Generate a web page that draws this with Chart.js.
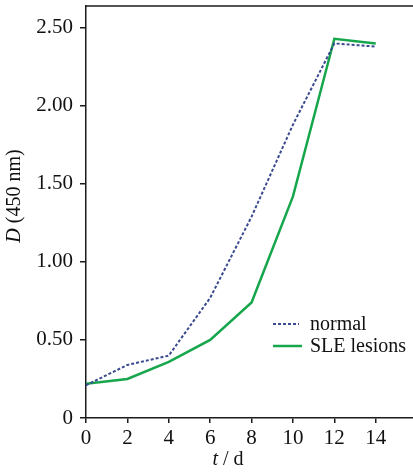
<!DOCTYPE html>
<html>
<head>
<meta charset="utf-8">
<script src="https://cdn.jsdelivr.net/npm/chart.js@4/dist/chart.umd.min.js"></script>
<style>
html,body{margin:0;padding:0;background:#fff;}
#wrap{width:413px;height:472px;position:relative;}
</style>
</head>
<body>
<div id="wrap"><canvas id="c"></canvas></div>
<script>
const days = [0, 2, 4, 6, 8, 10, 12, 14];
const normalValues = [0.21, 0.34, 0.40, 0.77, 1.29, 1.88, 2.40, 2.38];
const sleValues = [0.22, 0.25, 0.36, 0.50, 0.74, 1.42, 2.43, 2.40];
const xTicks = [0, 2, 4, 6, 8, 10, 12, 14];
const yTicks = [0, 0.5, 1.0, 1.5, 2.0, 2.5];
const seriesNames = ['normal', 'SLE lesions'];

const FONT = '"Liberation Serif", "Times New Roman", serif';
const AXIS = '#1a1a1a';

const overlay = {
  id: 'overlay',
  afterDraw(chart) {
    const ctx = chart.ctx;
    const a = chart.chartArea;
    ctx.save();
    // top frame line
    ctx.strokeStyle = AXIS;
    ctx.lineWidth = 1.5;
    ctx.beginPath();
    ctx.moveTo(a.left - 0.75, a.top);
    ctx.lineTo(a.right, a.top);
    ctx.stroke();

    ctx.fillStyle = '#111';
    ctx.textBaseline = 'middle';
    // y title
    ctx.save();
    ctx.translate(15, 196);
    ctx.rotate(-Math.PI / 2);
    const fIt = 'italic 20px ' + FONT, fRg = '20px ' + FONT;
    ctx.font = fIt; const w1 = ctx.measureText('D').width;
    ctx.font = fRg; const w2 = ctx.measureText(' (450 nm)').width;
    let sx = -(w1 + w2) / 2;
    ctx.textAlign = 'left';
    ctx.font = fIt; ctx.fillText('D', sx, 0);
    ctx.font = fRg; ctx.fillText(' (450 nm)', sx + w1, 0);
    ctx.restore();
    // x title
    ctx.font = fIt; const t1 = ctx.measureText('t').width;
    ctx.font = fRg; const t2 = ctx.measureText(' / d').width;
    let tx = 228 - (t1 + t2) / 2;
    ctx.textAlign = 'left';
    ctx.font = fIt; ctx.fillText('t', tx, 460);
    ctx.font = fRg; ctx.fillText(' / d', tx + t1, 460);

    // legend
    const lx0 = a.left + 187, lx1 = a.left + 213, tx0 = a.left + 224;
    const rows = [324, 346];
    chart.data.datasets.forEach((ds, i) => {
      const y = rows[i];
      ctx.strokeStyle = ds.borderColor;
      ctx.lineWidth = ds.borderWidth;
      ctx.setLineDash(ds.borderDash || []);
      ctx.beginPath();
      ctx.moveTo(lx0, y);
      ctx.lineTo(i === 0 ? lx1 : lx1 + 3, y);
      ctx.stroke();
      ctx.setLineDash([]);
      ctx.fillStyle = '#111';
      ctx.font = '20px ' + FONT;
      ctx.textAlign = 'left';
      ctx.fillText(ds.label, tx0, y + 1);
    });
    ctx.restore();
  }
};

function zeroPad(s) { s.paddingTop = 0; s.paddingBottom = 0; s.paddingLeft = 0; s.paddingRight = 0; }

new Chart(document.getElementById('c'), {
  type: 'line',
  data: {
    datasets: [
      {
        label: seriesNames[0],
        data: days.map((d, i) => ({x: d, y: normalValues[i]})),
        borderColor: '#3a4a8e',
        borderWidth: 2,
        borderDash: [3, 2],
        pointRadius: 0,
        tension: 0,
        fill: false,
        order: 0
      },
      {
        label: seriesNames[1],
        data: days.map((d, i) => ({x: d, y: sleValues[i]})),
        borderColor: '#16a64c',
        borderWidth: 2.5,
        pointRadius: 0,
        tension: 0,
        fill: false,
        order: 1
      }
    ]
  },
  options: {
    responsive: true,
    maintainAspectRatio: false,
    animation: false,
    layout: {padding: {top: 6, right: 0, left: 0, bottom: 0}},
    plugins: {legend: {display: false}, tooltip: {enabled: false}},
    scales: {
      x: {
        type: 'linear',
        min: 0,
        max: 15.8,
        afterBuildTicks: s => { s.ticks = xTicks.map(v => ({value: v})); },
        afterFit: s => { s.height = 54; zeroPad(s); },
        grid: {drawOnChartArea: false, drawTicks: true, tickLength: 5, color: AXIS, lineWidth: 1.5},
        border: {color: AXIS, width: 1.5},
        ticks: {
          color: '#111',
          font: {family: FONT, size: 21},
          padding: 3,
          maxRotation: 0,
          callback: v => String(v)
        }
      },
      y: {
        type: 'linear',
        min: 0,
        max: 2.64,
        afterBuildTicks: s => { s.ticks = yTicks.map(v => ({value: v})); },
        afterFit: s => { s.width = 86; zeroPad(s); },
        grid: {drawOnChartArea: false, drawTicks: true, tickLength: 6, color: AXIS, lineWidth: 1.5},
        border: {color: AXIS, width: 1.5},
        ticks: {
          color: '#111',
          font: {family: FONT, size: 21},
          padding: 7,
          callback: v => v === 0 ? '0' : Number(v).toFixed(2)
        }
      }
    }
  },
  plugins: [overlay]
});
</script>
</body>
</html>
